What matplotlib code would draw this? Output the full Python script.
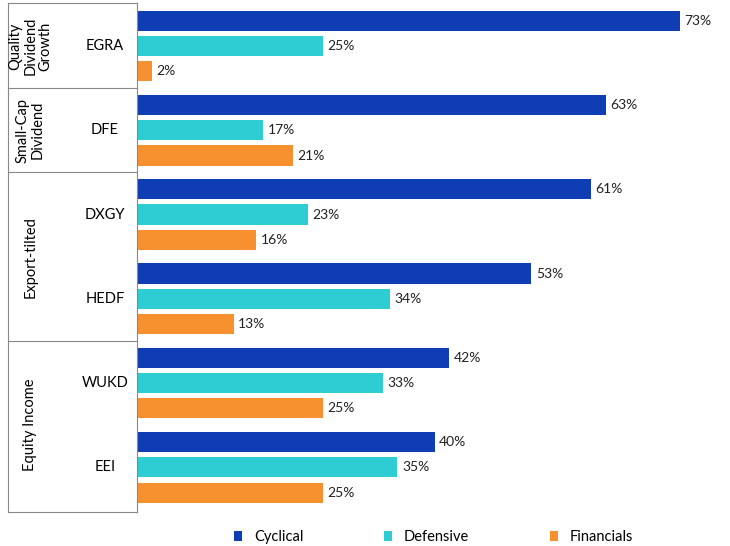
import numpy as np
import matplotlib.pyplot as plt
import matplotlib.transforms as mtransforms

funds = ['EGRA', 'DFE', 'DXGY', 'HEDF', 'WUKD', 'EEI']
cyclical = [73, 63, 61, 53, 42, 40]
defensive = [25, 17, 23, 34, 33, 35]
financials = [2, 21, 16, 13, 25, 25]
groups = ['Quality\nDividend\nGrowth', 'Small-Cap\nDividend', 'Export-tilted', 'Equity Income']
group_rows = [(0, 0), (1, 1), (2, 3), (4, 5)]

colors = ['#0F3DB4', '#2ECDD3', '#F7912F']
names = ['Cyclical', 'Defensive', 'Financials']

plt.rcParams['font.family'] = ['Lato', 'DejaVu Sans']
fig = plt.figure(figsize=(7.30, 5.46), dpi=100)
ax = fig.add_axes([137/730, 1-512/546, 593/730, 509/546])

y = np.arange(len(funds))
for k, (vals, c, n) in enumerate(zip([cyclical, defensive, financials], colors, names)):
    pos = y + (k - 1) * 0.3
    ax.barh(pos, vals, height=0.24, color=c, label=n)
    for p, v in zip(pos, vals):
        ax.text(v + 0.6, p, f'{v}%', va='center', ha='left', fontsize=10, color='#222222')

ax.set_xlim(0, 79.7)
ax.set_ylim(5.53, -0.51)
ax.set_xticks([])
ax.set_yticks([])
for s in ['top', 'right', 'bottom']:
    ax.spines[s].set_visible(False)
ax.spines['left'].set_color('#888888')

tr = mtransforms.blended_transform_factory(ax.transAxes, ax.transData)
xl = -129/593
for i, f in enumerate(funds):
    ax.text(-0.054, i, f, transform=tr, ha='center', va='center', fontsize=10.5)
bounds = [-0.51, 0.5, 1.5, 3.5, 5.53]
for b in bounds:
    ax.plot([xl, 0], [b, b], transform=tr, color='#888888', lw=0.8, clip_on=False)
ax.plot([xl, xl], [bounds[0], bounds[-1]], transform=tr, color='#888888', lw=0.8, clip_on=False)
for g, (a, b) in zip(groups, group_rows):
    ax.text(-0.18, (a + b) / 2, g, transform=tr, ha='center', va='center',
            rotation=90, fontsize=10.5, linespacing=1.1)

ax.legend(loc='upper center', bbox_to_anchor=(0.5, -0.01), ncol=3, frameon=False,
          fontsize=10.5, handlelength=0.6, handleheight=0.6, columnspacing=5.5)
fig.savefig('out.png', dpi=100)
